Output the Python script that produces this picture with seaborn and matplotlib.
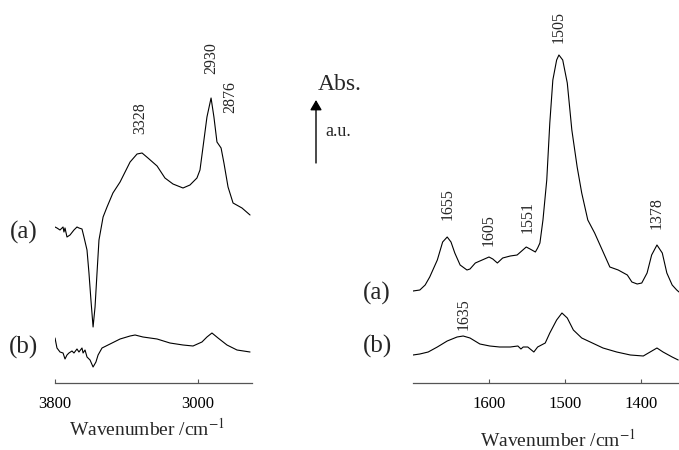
import matplotlib
matplotlib.use("Agg")
import matplotlib.pyplot as plt
import seaborn as sns
import pandas as pd

# ---------------- data ----------------
# Left panel: high wavenumber region, spectrum (a)
left_a_wn = [3800, 3789, 3772, 3755, 3750, 3744, 3733, 3716, 3694, 3677, 3666, 3649,
             3638, 3621, 3610, 3599, 3587, 3576, 3565, 3554, 3531, 3509, 3476, 3436,
             3408, 3380, 3341, 3313, 3280, 3229, 3185, 3140, 3084, 3045, 3006, 2989,
             2972, 2950, 2927, 2911, 2894, 2871, 2855, 2832, 2804, 2754, 2709]
left_a_abs = [1.56, 1.55, 1.53, 1.56, 1.51, 1.55, 1.46, 1.48, 1.53, 1.56, 1.55, 1.54,
              1.46, 1.33, 1.10, 0.83, 0.56, 0.76, 1.10, 1.43, 1.66, 1.76, 1.90, 2.01,
              2.11, 2.21, 2.29, 2.30, 2.25, 2.17, 2.05, 1.99, 1.95, 1.98, 2.05, 2.13,
              2.36, 2.66, 2.85, 2.66, 2.41, 2.35, 2.20, 1.96, 1.80, 1.75, 1.68]
# Left panel, spectrum (b)
left_b_wn = [3800, 3789, 3772, 3755, 3744, 3733, 3722, 3705, 3694, 3677, 3666, 3649,
             3643, 3632, 3621, 3604, 3587, 3571, 3559, 3537, 3492, 3436, 3380, 3352,
             3308, 3229, 3157, 3084, 3028, 2978, 2950, 2922, 2888, 2838, 2782, 2709]
left_b_abs = [0.45, 0.35, 0.31, 0.30, 0.24, 0.28, 0.30, 0.32, 0.30, 0.34, 0.31, 0.35,
              0.30, 0.33, 0.26, 0.23, 0.16, 0.21, 0.28, 0.35, 0.39, 0.44, 0.47, 0.48,
              0.46, 0.44, 0.40, 0.38, 0.37, 0.41, 0.46, 0.50, 0.45, 0.38, 0.33, 0.31]

# Right panel: fingerprint region, spectrum (a)
right_a_wn = [1700, 1691, 1684, 1678, 1668, 1661, 1655, 1650, 1645, 1638, 1629, 1625,
              1618, 1609, 1600, 1595, 1589, 1582, 1572, 1563, 1557, 1551, 1546, 1539,
              1536, 1533, 1529, 1524, 1520, 1516, 1511, 1508, 1503, 1497, 1491, 1484,
              1478, 1470, 1461, 1451, 1441, 1430, 1418, 1412, 1405, 1399, 1392, 1386,
              1379, 1372, 1366, 1359, 1353, 1350]
right_a_abs = [0.92, 0.93, 0.98, 1.06, 1.23, 1.41, 1.46, 1.41, 1.30, 1.18, 1.13, 1.14,
               1.20, 1.23, 1.26, 1.24, 1.20, 1.25, 1.27, 1.28, 1.32, 1.36, 1.34, 1.31,
               1.35, 1.40, 1.63, 2.03, 2.60, 3.03, 3.23, 3.28, 3.23, 3.00, 2.53, 2.16,
               1.90, 1.63, 1.50, 1.33, 1.16, 1.13, 1.08, 1.01, 0.99, 1.00, 1.10, 1.28,
               1.38, 1.30, 1.10, 0.98, 0.93, 0.91]
# Right panel, spectrum (b)
right_b_wn = [1700, 1691, 1680, 1668, 1655, 1642, 1634, 1625, 1612, 1599, 1586, 1572,
              1562, 1558, 1555, 1549, 1541, 1536, 1526, 1520, 1511, 1504, 1497, 1489,
              1478, 1464, 1450, 1432, 1414, 1397, 1388, 1379, 1371, 1359, 1351]
right_b_abs = [0.28, 0.29, 0.31, 0.36, 0.42, 0.46, 0.47, 0.45, 0.39, 0.37, 0.36, 0.36,
               0.37, 0.34, 0.36, 0.36, 0.31, 0.36, 0.40, 0.50, 0.63, 0.70, 0.65, 0.53,
               0.45, 0.40, 0.35, 0.31, 0.28, 0.27, 0.31, 0.35, 0.31, 0.26, 0.23]

left_ticks = [3800, 3000]
right_ticks = [1600, 1500, 1400]

left_peaks = ["3328", "2930", "2876"]
left_peak_x = [3324, 2927, 2821]
left_peak_y = [2.65, 3.25, 2.86]
right_peaks = ["1655", "1605", "1551", "1505", "1378", "1635"]
right_peak_x = [1655, 1600, 1549, 1508, 1379, 1634]
right_peak_y = [1.79, 1.53, 1.66, 3.56, 1.70, 0.69]

xlabel = "Wavenumber /cm$^{-1}$"

# ---------------- plotting ----------------
sns.set_theme(style="white")
plt.rcParams["font.family"] = ["Liberation Serif", "DejaVu Serif"]
plt.rcParams["mathtext.fontset"] = "stix"

W, H = 679, 450
fig = plt.figure(figsize=(W / 100, H / 100), dpi=100)
axL = fig.add_axes([55 / W, 67 / H, 197 / W, 383 / H])
axR = fig.add_axes([413 / W, 67 / H, 266 / W, 383 / H])

dfs = [
    (axL, pd.DataFrame({"wn": left_a_wn, "abs": left_a_abs})),
    (axL, pd.DataFrame({"wn": left_b_wn, "abs": left_b_abs})),
    (axR, pd.DataFrame({"wn": right_a_wn, "abs": right_a_abs})),
    (axR, pd.DataFrame({"wn": right_b_wn, "abs": right_b_abs})),
]
for ax, df in dfs:
    sns.lineplot(data=df, x="wn", y="abs", ax=ax, color="black", lw=0.8,
                 sort=False, estimator=None)

axL.set_xlim(3800, 2698)
axR.set_xlim(1700, 1350)
for ax, ticks in ((axL, left_ticks), (axR, right_ticks)):
    ax.set_ylim(0, 3.83)
    ax.set_xticks(ticks)
    ax.set_yticks([])
    ax.set_xlabel("")
    ax.set_ylabel("")
    for s in ("top", "left", "right"):
        ax.spines[s].set_visible(False)
    ax.spines["bottom"].set_color("#555555")
    ax.spines["bottom"].set_linewidth(0.9)
    ax.tick_params(axis="x", direction="in", length=3, width=0.8, color="#555555",
                   pad=9, labelsize=12, labelcolor="black", bottom=True)
    ax.patch.set_alpha(0)

for t, x, y in zip(left_peaks, left_peak_x, left_peak_y):
    axL.text(x, y, t, rotation=90, ha="center", va="center", fontsize=11.5)
for t, x, y in zip(right_peaks, right_peak_x, right_peak_y):
    axR.text(x, y, t, rotation=90, ha="center", va="center", fontsize=11.5)

# axis titles
fig.text(147 / W, 1 - 429 / H, xlabel, ha="center", va="center", fontsize=14)
fig.text(558 / W, 1 - 440 / H, xlabel, ha="center", va="center", fontsize=14)

# spectrum labels
for x, y, t in ((24, 232, "(a)"), (24, 347, "(b)"), (377, 293, "(a)"), (377, 346, "(b)")):
    fig.text(x / W, 1 - y / H, t, ha="center", va="center", fontsize=18)

# absorbance scale arrow
fig.text(340 / W, 1 - 85 / H, "Abs.", ha="center", va="center", fontsize=17)
fig.text(325 / W, 1 - 132 / H, "a.u.", ha="left", va="center", fontsize=13)
fig.add_artist(matplotlib.patches.FancyArrowPatch(
    (316 / W, 1 - 163 / H), (316 / W, 1 - 100 / H), transform=fig.transFigure,
    arrowstyle="-|>,head_length=6,head_width=3.5", color="black", lw=1.0,
    shrinkA=0, shrinkB=0))

fig.savefig("out.png", dpi=100)
